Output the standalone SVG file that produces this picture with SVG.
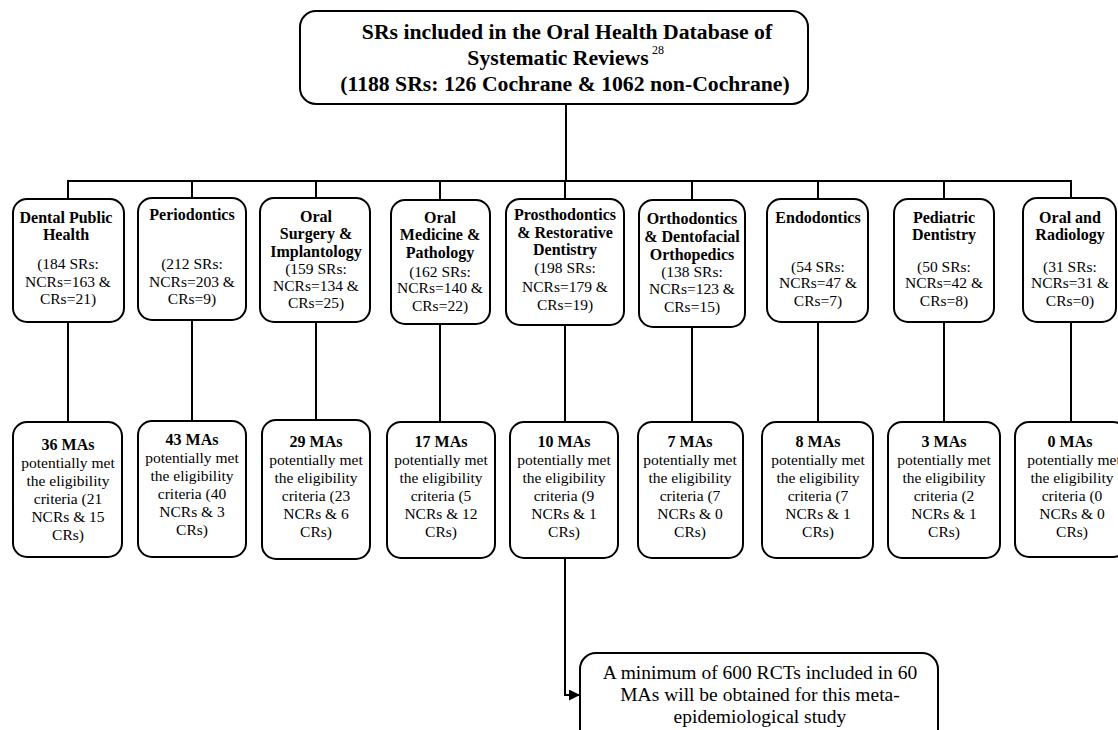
<svg xmlns="http://www.w3.org/2000/svg" width="1118" height="730" viewBox="0 0 1118 730">
<style>
.box{fill:#fff;stroke:#000;stroke-width:2}
.ln{fill:none;stroke:#000;stroke-width:2}
text{font-family:"Liberation Serif","Times New Roman",serif;fill:#000;text-anchor:middle}
.t{font-size:21.7px;font-weight:bold}
.h{font-size:16px;font-weight:bold}
.n{font-size:15.5px}
.f{font-size:19.5px}
</style>
<defs>
<marker id="arr" markerWidth="12" markerHeight="12" refX="11" refY="5.5" orient="auto" markerUnits="userSpaceOnUse">
<path d="M0,0 L11,5.5 L0,11 Z" fill="#000"/>
</marker>
</defs>
<g id="connectors">
<path class="ln" d="M566,104 V181"/>
<path class="ln" d="M68,199 V181 H1071 V199"/>
<path class="ln" d="M192,181 V199 M316,181 V199 M440,181 V200 M565,181 V199 M692,181 V200 M818,181 V199 M944,181 V199"/>
<path class="ln" d="M68,322 V422 M192,320 V421 M316,322 V420 M440,324 V422 M565,325 V422 M692,327 V422 M818,322 V422 M944,322 V422 M1071,322 V422"/>
<path class="ln" d="M565,558 V695 H580" marker-end="url(#arr)"/>
</g>
<g id="top">
<rect class="box" x="300" y="11" width="508" height="93" rx="16"/>
<text class="t" x="567" y="39">SRs included in the Oral Health Database of</text>
<text class="t" x="558" y="65">Systematic Reviews</text>
<text x="652" y="54" font-size="12" style="text-anchor:start">28</text>
<text class="t" x="565" y="91">(1188 SRs: 126 Cochrane &amp; 1062 non-Cochrane)</text>
</g>
<g id="cat1">
<rect class="box" x="13" y="199" width="111" height="123" rx="14"/>
<text class="h" x="66" y="223">Dental Public</text>
<text class="h" x="66" y="240">Health</text>
<text class="n" x="68" y="269">(184 SRs:</text>
<text class="n" x="68" y="287">NCRs=163 &amp;</text>
<text class="n" x="68" y="304">CRs=21)</text>
</g>
<g id="cat2">
<rect class="box" x="138" y="198" width="108" height="122" rx="14"/>
<text class="h" x="192" y="220">Periodontics</text>
<text class="n" x="192" y="269">(212 SRs:</text>
<text class="n" x="192" y="287">NCRs=203 &amp;</text>
<text class="n" x="192" y="304">CRs=9)</text>
</g>
<g id="cat3">
<rect class="box" x="260" y="198" width="110" height="124" rx="14"/>
<text class="h" x="316" y="222">Oral</text>
<text class="h" x="316" y="239">Surgery &amp;</text>
<text class="h" x="316" y="257">Implantology</text>
<text class="n" x="316" y="274">(159 SRs:</text>
<text class="n" x="316" y="291">NCRs=134 &amp;</text>
<text class="n" x="316" y="308">CRs=25)</text>
</g>
<g id="cat4">
<rect class="box" x="391" y="200" width="99" height="124" rx="14"/>
<text class="h" x="440" y="223">Oral</text>
<text class="h" x="440" y="240">Medicine &amp;</text>
<text class="h" x="440" y="258">Pathology</text>
<text class="n" x="440" y="277">(162 SRs:</text>
<text class="n" x="440" y="293">NCRs=140 &amp;</text>
<text class="n" x="440" y="311">CRs=22)</text>
</g>
<g id="cat5">
<rect class="box" x="506" y="199" width="118" height="126" rx="14"/>
<text class="h" x="565" y="220">Prosthodontics</text>
<text class="h" x="565" y="238">&amp; Restorative</text>
<text class="h" x="565" y="255">Dentistry</text>
<text class="n" x="565" y="273">(198 SRs:</text>
<text class="n" x="565" y="292">NCRs=179 &amp;</text>
<text class="n" x="565" y="310">CRs=19)</text>
</g>
<g id="cat6">
<rect class="box" x="639" y="200" width="106" height="127" rx="14"/>
<text class="h" x="692" y="224">Orthodontics</text>
<text class="h" x="692" y="242">&amp; Dentofacial</text>
<text class="h" x="692" y="260">Orthopedics</text>
<text class="n" x="692" y="277">(138 SRs:</text>
<text class="n" x="692" y="294">NCRs=123 &amp;</text>
<text class="n" x="692" y="312">CRs=15)</text>
</g>
<g id="cat7">
<rect class="box" x="767" y="199" width="101" height="123" rx="14"/>
<text class="h" x="818" y="223">Endodontics</text>
<text class="n" x="818" y="272">(54 SRs:</text>
<text class="n" x="818" y="288">NCRs=47 &amp;</text>
<text class="n" x="818" y="306">CRs=7)</text>
</g>
<g id="cat8">
<rect class="box" x="894" y="199" width="100" height="123" rx="14"/>
<text class="h" x="944" y="223">Pediatric</text>
<text class="h" x="944" y="240">Dentistry</text>
<text class="n" x="944" y="272">(50 SRs:</text>
<text class="n" x="944" y="288">NCRs=42 &amp;</text>
<text class="n" x="944" y="306">CRs=8)</text>
</g>
<g id="cat9">
<rect class="box" x="1023" y="198" width="93" height="124" rx="14"/>
<text class="h" x="1070" y="223">Oral and</text>
<text class="h" x="1070" y="240">Radiology</text>
<text class="n" x="1070" y="272">(31 SRs:</text>
<text class="n" x="1070" y="288">NCRs=31 &amp;</text>
<text class="n" x="1070" y="306">CRs=0)</text>
</g>
<g id="ma1">
<rect class="box" x="13" y="422" width="109" height="135" rx="14"/>
<text class="h" x="68" y="450">36 MAs</text>
<text class="n" x="68" y="468">potentially met</text>
<text class="n" x="68" y="486">the eligibility</text>
<text class="n" x="68" y="504">criteria (21</text>
<text class="n" x="68" y="522">NCRs &amp; 15</text>
<text class="n" x="68" y="540">CRs)</text>
</g>
<g id="ma2">
<rect class="box" x="138" y="421" width="108" height="136" rx="14"/>
<text class="h" x="192" y="445">43 MAs</text>
<text class="n" x="192" y="463">potentially met</text>
<text class="n" x="192" y="481">the eligibility</text>
<text class="n" x="192" y="499">criteria (40</text>
<text class="n" x="192" y="517">NCRs &amp; 3</text>
<text class="n" x="192" y="535">CRs)</text>
</g>
<g id="ma3">
<rect class="box" x="262" y="420" width="108" height="139" rx="14"/>
<text class="h" x="316" y="447">29 MAs</text>
<text class="n" x="316" y="465">potentially met</text>
<text class="n" x="316" y="483">the eligibility</text>
<text class="n" x="316" y="501">criteria (23</text>
<text class="n" x="316" y="519">NCRs &amp; 6</text>
<text class="n" x="316" y="537">CRs)</text>
</g>
<g id="ma4">
<rect class="box" x="387" y="422" width="108" height="136" rx="14"/>
<text class="h" x="441" y="447">17 MAs</text>
<text class="n" x="441" y="465">potentially met</text>
<text class="n" x="441" y="483">the eligibility</text>
<text class="n" x="441" y="501">criteria (5</text>
<text class="n" x="441" y="519">NCRs &amp; 12</text>
<text class="n" x="441" y="537">CRs)</text>
</g>
<g id="ma5">
<rect class="box" x="510" y="422" width="108" height="136" rx="14"/>
<text class="h" x="564" y="447">10 MAs</text>
<text class="n" x="564" y="465">potentially met</text>
<text class="n" x="564" y="483">the eligibility</text>
<text class="n" x="564" y="501">criteria (9</text>
<text class="n" x="564" y="519">NCRs &amp; 1</text>
<text class="n" x="564" y="537">CRs)</text>
</g>
<g id="ma6">
<rect class="box" x="638" y="422" width="105" height="136" rx="14"/>
<text class="h" x="690" y="447">7 MAs</text>
<text class="n" x="690" y="465">potentially met</text>
<text class="n" x="690" y="483">the eligibility</text>
<text class="n" x="690" y="501">criteria (7</text>
<text class="n" x="690" y="519">NCRs &amp; 0</text>
<text class="n" x="690" y="537">CRs)</text>
</g>
<g id="ma7">
<rect class="box" x="762" y="422" width="111" height="136" rx="14"/>
<text class="h" x="818" y="447">8 MAs</text>
<text class="n" x="818" y="465">potentially met</text>
<text class="n" x="818" y="483">the eligibility</text>
<text class="n" x="818" y="501">criteria (7</text>
<text class="n" x="818" y="519">NCRs &amp; 1</text>
<text class="n" x="818" y="537">CRs)</text>
</g>
<g id="ma8">
<rect class="box" x="888" y="422" width="112" height="136" rx="14"/>
<text class="h" x="944" y="447">3 MAs</text>
<text class="n" x="944" y="465">potentially met</text>
<text class="n" x="944" y="483">the eligibility</text>
<text class="n" x="944" y="501">criteria (2</text>
<text class="n" x="944" y="519">NCRs &amp; 1</text>
<text class="n" x="944" y="537">CRs)</text>
</g>
<g id="ma9">
<rect class="box" x="1015" y="422" width="112" height="135" rx="14"/>
<text class="h" x="1070" y="447">0 MAs</text>
<text class="n" x="1074" y="465">potentially met</text>
<text class="n" x="1072" y="483">the eligibility</text>
<text class="n" x="1072" y="501">criteria (0</text>
<text class="n" x="1072" y="519">NCRs &amp; 0</text>
<text class="n" x="1072" y="537">CRs)</text>
</g>
<g id="final">
<rect class="box" x="580" y="653" width="358" height="100" rx="16"/>
<text class="f" x="760" y="679">A minimum of 600 RCTs included in 60</text>
<text class="f" x="760" y="701">MAs will be obtained for this meta-</text>
<text class="f" x="760" y="723">epidemiological study</text>
</g>
</svg>
